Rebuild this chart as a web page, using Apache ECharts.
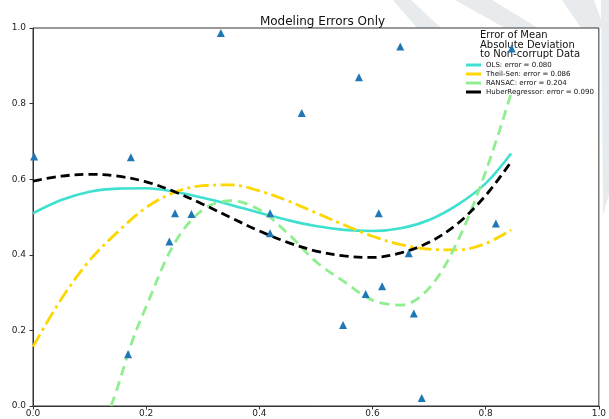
<!DOCTYPE html>
<html>
<head>
<meta charset="utf-8">
<script src="https://cdn.jsdelivr.net/npm/echarts@6/dist/echarts.min.js"></script>
<style>
html,body{margin:0;padding:0;background:#fff;}
#chart{width:609px;height:419px;}
</style>
</head>
<body>
<div id="chart"></div>
<script>
// ---- data ----
const chartTitle = 'Modeling Errors Only';
const legendTitle = 'Error of Mean\nAbsolute Deviation\nto Non-corrupt Data';
const seriesNames = ['OLS: error = 0.080', 'Theil-Sen: error = 0.086', 'RANSAC: error = 0.204', 'HuberRegressor: error = 0.090'];
const tickValues = [0.0, 0.2, 0.4, 0.6, 0.8, 1.0];

const pointX = [0.002, 0.173, 0.332, 0.168, 0.241, 0.251, 0.280, 0.419, 0.419, 0.475, 0.576, 0.649, 0.846, 0.611, 0.818, 0.664, 0.617, 0.588, 0.673, 0.687, 0.548];
const pointY = [0.660, 0.658, 0.987, 0.137, 0.435, 0.510, 0.508, 0.510, 0.457, 0.775, 0.870, 0.951, 0.946, 0.510, 0.483, 0.404, 0.317, 0.296, 0.245, 0.021, 0.214];

const curveX = [0, 0.05, 0.1, 0.15, 0.2, 0.25, 0.3, 0.35, 0.4, 0.45, 0.5, 0.55, 0.6, 0.65, 0.7, 0.75, 0.8, 0.845];
const olsY    = [0.510, 0.545, 0.567, 0.575, 0.576, 0.567, 0.551, 0.532, 0.511, 0.492, 0.476, 0.466, 0.463, 0.470, 0.492, 0.532, 0.589, 0.668];
const theilY  = [0.157, 0.283, 0.385, 0.461, 0.525, 0.565, 0.583, 0.585, 0.569, 0.543, 0.511, 0.479, 0.449, 0.427, 0.415, 0.413, 0.430, 0.466];
const huberY  = [0.595, 0.608, 0.613, 0.608, 0.593, 0.567, 0.534, 0.498, 0.463, 0.433, 0.410, 0.397, 0.393, 0.405, 0.433, 0.482, 0.557, 0.646];

const ransacX = [0.138, 0.15, 0.175, 0.2, 0.25, 0.3, 0.35, 0.4, 0.45, 0.5, 0.55, 0.6, 0.65, 0.7, 0.75, 0.8, 0.845];
const ransacY = [0.000, 0.052, 0.170, 0.263, 0.430, 0.519, 0.543, 0.519, 0.457, 0.382, 0.329, 0.280, 0.267, 0.312, 0.435, 0.620, 0.827];

// ---- build ----
const zip = (xs, ys) => xs.map((x, i) => [x, ys[i]]);
const FONT = 'DejaVu Sans';
const wm = '#e7ebed';

const chart = echarts.init(document.getElementById('chart'), null, {renderer: 'canvas'});

const lineSeries = (name, xs, ys, color, type, width) => ({
  name: name, type: 'line', data: zip(xs, ys), smooth: 0.35, showSymbol: false,
  symbol: 'none', z: 3,
  lineStyle: {color: color, width: width, type: type, cap: 'butt'},
  itemStyle: {color: color}
});

chart.setOption({
  animation: false,
  backgroundColor: '#ffffff',
  graphic: [
    {type: 'polygon', z: -10, shape: {points: [[393,0],[411,0],[441,28],[417,28]]}, style: {fill: wm}},
    {type: 'polygon', z: -10, shape: {points: [[455,0],[492,0],[538,28],[505,28]]}, style: {fill: wm}},
    {type: 'polygon', z: -10, shape: {points: [[562,0],[594,0],[604,28],[581,28]]}, style: {fill: wm}},
    {type: 'polygon', z: -10, shape: {points: [[601,0],[609,0],[609,195],[603,215]]}, style: {fill: wm}}
  ],
  title: [
    {text: chartTitle, left: 317.5, top: 11, textAlign: 'center',
     textStyle: {fontFamily: FONT, fontSize: 12, fontWeight: 'normal', color: '#111'}},
    {text: legendTitle, left: 480, top: 31, padding: 0,
     textStyle: {fontFamily: FONT, fontSize: 10, fontWeight: 'normal', color: '#111', lineHeight: 9.4}}
  ],
  grid: {left: 33, right: 7, top: 28, bottom: 13, show: true, backgroundColor: '#fff', borderColor: '#333', borderWidth: 1},
  legend: {
    data: seriesNames, orient: 'vertical', left: 466, top: 60.5, padding: 0, itemGap: 0,
    itemWidth: 15, itemHeight: 3, icon: 'rect',
    textStyle: {fontFamily: FONT, fontSize: 7, color: '#111', lineHeight: 9}
  },
  xAxis: {
    type: 'value', min: 0, max: 1, interval: 0.2,
    axisLine: {lineStyle: {color: '#333', width: 1}},
    axisTick: {length: 3.5, lineStyle: {color: '#333'}},
    splitLine: {show: false},
    axisLabel: {fontFamily: FONT, fontSize: 9, color: '#222', margin: 3,
      formatter: v => tickValues.includes(Math.round(v*10)/10) ? v.toFixed(1) : ''}
  },
  yAxis: {
    type: 'value', min: 0, max: 1, interval: 0.2,
    axisLine: {show: true, lineStyle: {color: '#333', width: 1}},
    axisTick: {show: true, length: 3.5, lineStyle: {color: '#333'}},
    splitLine: {show: false},
    axisLabel: {fontFamily: FONT, fontSize: 9, color: '#222', margin: 7,
      formatter: v => v.toFixed(1)}
  },
  series: [
    {type: 'scatter', name: 'points', data: zip(pointX, pointY), symbol: 'triangle', symbolSize: 8,
     itemStyle: {color: '#1f77b4', opacity: 1}, z: 10},
    lineSeries(seriesNames[0], curveX, olsY, '#40e0d0', 'solid', 2.6),
    lineSeries(seriesNames[1], curveX, theilY, '#ffd700', [14, 4.5, 3, 4.5], 2.8),
    lineSeries(seriesNames[2], ransacX, ransacY, '#90ee90', [10, 6], 2.8),
    lineSeries(seriesNames[3], curveX, huberY, '#000000', [9, 5], 2.8)
  ]
});
</script>
</body>
</html>
